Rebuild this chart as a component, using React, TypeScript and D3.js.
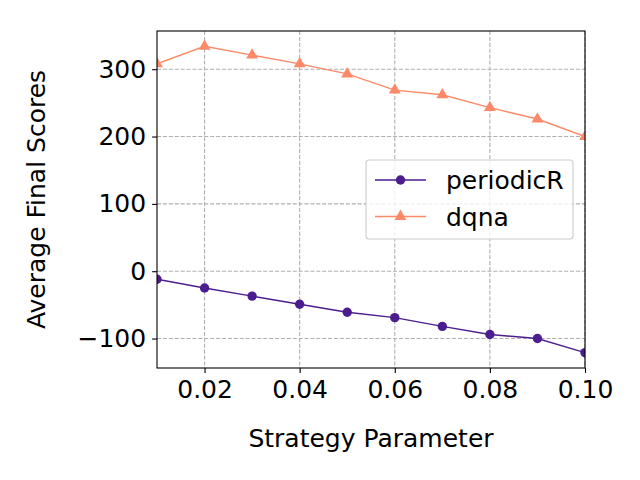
import React, { useEffect, useRef } from 'react';
import * as d3 from 'd3';

// strategy parameter values on the x axis
const params = [0.01, 0.02, 0.03, 0.04, 0.05, 0.06, 0.07, 0.08, 0.09, 0.1];

// average final scores per strategy
const periodicR = [-12, -25, -37, -49, -61, -69, -82, -94, -100, -121];
const dqna = [308, 334, 321, 308, 293, 269, 262, 243, 226, 200];

const xTicks = [0.02, 0.04, 0.06, 0.08, 0.1];
const yTicks = [-100, 0, 100, 200, 300];

const purple = '#4c1d8e';
const salmon = '#fc8a68';
const font = 'DejaVu Sans';
const fs = '25px';

const App = () => {
  const ref = useRef<SVGSVGElement>(null);

  useEffect(() => {
    const svg = d3.select(ref.current);
    svg.selectAll('*').remove();

    const left = 157;
    const right = 585;
    const top = 31;
    const bottom = 368;

    const x = d3.scaleLinear().domain([0.01, 0.1]).range([left, right]);
    const y = d3.scaleLinear().domain([-143.75, 356.75]).range([bottom, top]);

    svg.append('rect').attr('width', 640).attr('height', 480).attr('fill', '#fff');

    svg
      .append('defs')
      .append('clipPath')
      .attr('id', 'plot-clip')
      .append('rect')
      .attr('x', left)
      .attr('y', top)
      .attr('width', right - left)
      .attr('height', bottom - top);

    // grid
    const grid = svg.append('g');
    grid
      .selectAll('line.gx')
      .data(xTicks)
      .enter()
      .append('line')
      .attr('x1', (d) => x(d))
      .attr('x2', (d) => x(d))
      .attr('y1', top)
      .attr('y2', bottom);
    grid
      .selectAll('line.gy')
      .data(yTicks)
      .enter()
      .append('line')
      .attr('x1', left)
      .attr('x2', right)
      .attr('y1', (d) => y(d))
      .attr('y2', (d) => y(d));
    grid
      .selectAll('line')
      .attr('stroke', '#b0b0b0')
      .attr('stroke-width', 1.1)
      .attr('stroke-dasharray', '4.1,1.8');

    // series
    const plot = svg.append('g').attr('clip-path', 'url(#plot-clip)');
    const line = d3
      .line<number>()
      .x((_, i) => x(params[i]))
      .y((d) => y(d));

    plot
      .append('path')
      .datum(periodicR)
      .attr('d', line)
      .attr('fill', 'none')
      .attr('stroke', purple)
      .attr('stroke-width', 1.4);
    plot
      .append('path')
      .datum(dqna)
      .attr('d', line)
      .attr('fill', 'none')
      .attr('stroke', salmon)
      .attr('stroke-width', 1.4);

    plot
      .selectAll('circle.p')
      .data(periodicR)
      .enter()
      .append('circle')
      .attr('cx', (_, i) => x(params[i]))
      .attr('cy', (d) => y(d))
      .attr('r', 4.7)
      .attr('fill', purple);

    const tri = d3.symbol().type(d3.symbolTriangle).size(62);
    plot
      .selectAll('path.t')
      .data(dqna)
      .enter()
      .append('path')
      .attr('d', tri)
      .attr('transform', (d, i) => `translate(${x(params[i])},${y(d)})`)
      .attr('fill', salmon);

    // spines
    svg
      .append('rect')
      .attr('x', left)
      .attr('y', top)
      .attr('width', right - left)
      .attr('height', bottom - top)
      .attr('fill', 'none')
      .attr('stroke', '#000')
      .attr('stroke-width', 1.1);

    // axes
    const xAxis = svg
      .append('g')
      .attr('transform', `translate(0,${bottom})`)
      .call(
        d3
          .axisBottom(x)
          .tickValues(xTicks)
          .tickSize(4.9)
          .tickPadding(7)
          .tickFormat(d3.format('.2f'))
      );
    const yAxis = svg
      .append('g')
      .attr('transform', `translate(${left},0)`)
      .call(
        d3
          .axisLeft(y)
          .tickValues(yTicks)
          .tickSize(4.9)
          .tickPadding(6)
          .tickFormat((d) => (+d < 0 ? '\u2212' + Math.abs(+d) : String(d)))
      );
    [xAxis, yAxis].forEach((a) => {
      a.select('.domain').remove();
      a.selectAll('line').attr('stroke', '#000').attr('stroke-width', 1.1);
      a.selectAll('text')
        .attr('fill', '#000')
        .style('font-family', font)
        .style('font-size', fs);
    });

    // axis labels
    svg
      .append('text')
      .attr('x', (left + right) / 2)
      .attr('y', 447)
      .attr('text-anchor', 'middle')
      .style('font-family', font)
      .style('font-size', fs)
      .text('Strategy Parameter');

    svg
      .append('text')
      .attr('text-anchor', 'middle')
      .attr('transform', `translate(45, ${(top + bottom) / 2}) rotate(-90)`)
      .style('font-family', font)
      .style('font-size', fs)
      .text('Average Final Scores');

    // legend
    const lg = svg.append('g');
    lg.append('rect')
      .attr('x', 366)
      .attr('y', 160)
      .attr('width', 207)
      .attr('height', 79)
      .attr('rx', 3)
      .attr('fill', 'rgba(255,255,255,0.8)')
      .attr('stroke', '#cccccc')
      .attr('stroke-width', 1.1);

    const items = [
      { name: 'periodicR', color: purple, shape: 'circle' },
      { name: 'dqna', color: salmon, shape: 'triangle' },
    ];
    items.forEach((it, i) => {
      const cy = 180 + i * 36.5;
      lg.append('line')
        .attr('x1', 375)
        .attr('x2', 426)
        .attr('y1', cy)
        .attr('y2', cy)
        .attr('stroke', it.color)
        .attr('stroke-width', 1.4);
      if (it.shape === 'circle') {
        lg.append('circle').attr('cx', 400.5).attr('cy', cy).attr('r', 4.7).attr('fill', it.color);
      } else {
        lg.append('path')
          .attr('d', tri)
          .attr('transform', `translate(400.5,${cy})`)
          .attr('fill', it.color);
      }
      lg.append('text')
        .attr('x', 446)
        .attr('y', cy + 9)
        .style('font-family', font)
        .style('font-size', fs)
        .text(it.name);
    });
  }, []);

  return (
    <div style={{ position: 'fixed', left: 0, top: 0 }}>
      <svg ref={ref} width={640} height={480} style={{ display: 'block' }}></svg>
    </div>
  );
};

export default App;
